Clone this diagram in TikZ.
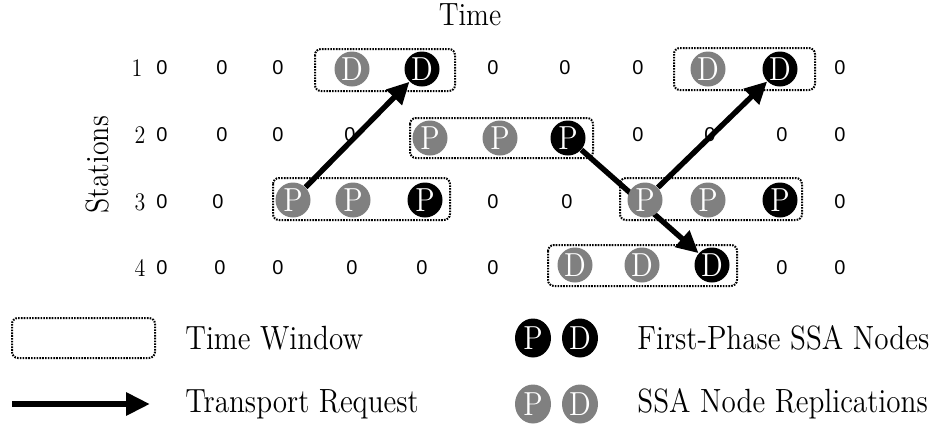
\documentclass[tikz,border=0pt]{standalone}
\usepackage{fontspec}
\newfontfamily\zerofont{Liberation Sans}
\usetikzlibrary{arrows.meta,shapes.geometric}
\pgfdeclarelayer{bg}
\pgfsetlayers{bg,main}
\newcommand{\tallt}[1]{\scalebox{1}[1.15]{#1}}
\begin{document}
\begin{tikzpicture}[x=0.5pt,y=-0.5pt,
  zero/.style={font=\zerofont\fontsize{10}{11}\selectfont, inner sep=0pt},
  rowlab/.style={font=\fontsize{11}{12}\selectfont, inner sep=0pt},
  ssa/.style={circle, inner sep=0pt, minimum size=17.5pt, text=white, font=\fontsize{14.5}{16}\selectfont},
  first/.style={ssa, fill=black},
  repl/.style={ssa, fill=gray},
  twin/.style={draw, line width=1pt, dash pattern=on 0.8pt off 0.6pt, rounded corners=3pt},
  req/.style={line width=2.7pt, -{Triangle[length=11pt,width=10.5pt]}},
  lab/.style={font=\fontsize{14.6}{16}\selectfont, anchor=west, inner sep=0pt},
  ttl/.style={font=\fontsize{14}{16}\selectfont, inner sep=0pt}
]
\useasboundingbox (0,0) rectangle (943,447);

% titles
\node[ttl] (time) at (470,15) {\tallt{Time}};
\node[ttl, rotate=90] (stations) at (98,165) {\tallt{Stations}};

% row labels
\node[rowlab] (l1) at (137,68) {\tallt{1}};
\node[rowlab] (l2) at (140,135) {\tallt{2}};
\node[rowlab] (l3) at (140,202) {\tallt{3}};
\node[rowlab] (l4) at (140,268) {\tallt{4}};

% empty slots
\foreach \x [count=\i] in {162,222,278,493,565,638,840} \node[zero] (za\i) at (\x,68) {0};
\foreach \x [count=\i] in {162,222,278,350,638,710,782,840} \node[zero] (zb\i) at (\x,135) {0};
\foreach \x [count=\i] in {162,218,493,567,840} \node[zero] (zc\i) at (\x,202) {0};
\foreach \x [count=\i] in {162,220,278,352,422,493,782,840} \node[zero] (zd\i) at (\x,268) {0};

% time windows
\draw[twin] (315,49) rectangle (455,91);
\draw[twin] (674,48) rectangle (815,90);
\draw[twin] (410,118) rectangle (593,158);
\draw[twin] (273,178) rectangle (450,220);
\draw[twin] (620,178) rectangle (802,220);
\draw[twin] (548,245) rectangle (737,286);

% SSA nodes
\node[repl]  (r1a) at (352,69) {\tallt{D}};
\node[first] (r1b) at (422,69) {\tallt{D}};
\node[repl]  (r1c) at (708,69) {\tallt{D}};
\node[first] (r1d) at (780,69) {\tallt{D}};

\node[repl]  (r2a) at (430,138) {\tallt{P}};
\node[repl]  (r2b) at (500,138) {\tallt{P}};
\node[first] (r2c) at (568,138) {\tallt{P}};

\node[repl]  (r3a) at (293,200) {\tallt{P}};
\node[repl]  (r3b) at (353,200) {\tallt{P}};
\node[first] (r3c) at (425,200) {\tallt{P}};
\node[repl]  (r3d) at (645,200) {\tallt{P}};
\node[repl]  (r3e) at (708,200) {\tallt{P}};
\node[first] (r3f) at (780,200) {\tallt{P}};

\node[repl]  (r4a) at (575,265) {\tallt{D}};
\node[repl]  (r4b) at (642,265) {\tallt{D}};
\node[first] (r4c) at (712,265) {\tallt{D}};

% transport requests
\begin{pgfonlayer}{bg}
\draw[req] (r3a) -- (r1b);
\draw[req] (r2c) -- (r4c);
\draw[req] (r3d) -- (r1d);
\end{pgfonlayer}

% legend
\draw[twin] (12,318) rectangle (155,358);
\node[lab] (lgtw) at (185,338) {\tallt{Time Window}};
\coordinate (la0) at (12,404);
\coordinate (la1) at (150,404);
\draw[line width=3pt, -{Triangle[length=12pt,width=11pt]}] (la0) -- (la1);
\node[lab] (lgtr) at (185,404) {\tallt{Transport Request}};

\node[first, ellipse, minimum width=18pt, minimum height=19.5pt] (lgp1) at (533,338) {\tallt{P}};
\node[first, ellipse, minimum width=18pt, minimum height=19.5pt] (lgd1) at (580,338) {\tallt{D}};
\node[lab] (lgfp) at (637,338) {\tallt{First-Phase SSA Nodes}};
\node[repl, ellipse, minimum width=18pt, minimum height=19.5pt] (lgp2) at (533,404) {\tallt{P}};
\node[repl, ellipse, minimum width=18pt, minimum height=19.5pt] (lgd2) at (580,404) {\tallt{D}};
\node[lab] (lgnr) at (637,404) {\tallt{SSA Node Replications}};
\end{tikzpicture}
\end{document}
